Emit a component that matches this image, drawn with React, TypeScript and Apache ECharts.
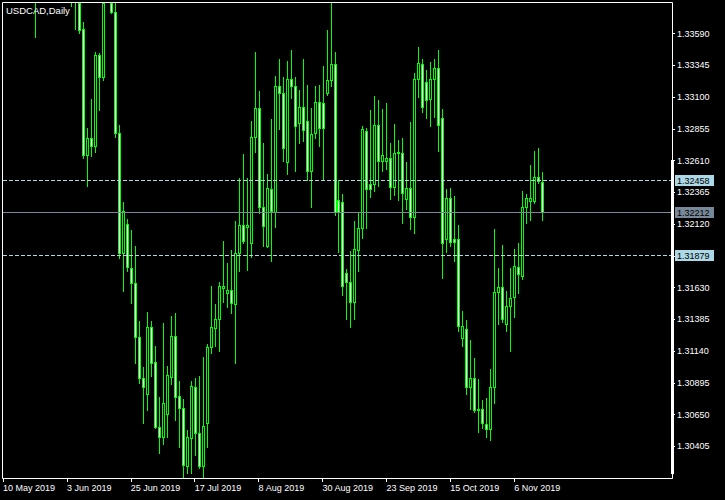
import React, { useEffect, useRef } from 'react';
import * as echarts from 'echarts';

const chartTitle = 'USDCAD,Daily';
const tickLabels = ['10 May 2019', '3 Jun 2019', '25 Jun 2019', '17 Jul 2019', '8 Aug 2019', '30 Aug 2019', '23 Sep 2019', '15 Oct 2019', '6 Nov 2019'];
const tickEvery = 16;
const slotCount = 168;

const openPrices = [
  1.34520, 1.34300, 1.34700, 1.34550, 1.34680, 1.34500, 1.34650, 1.34180, 1.34250, 1.34400,
  1.34800, 1.34350, 1.34400, 1.34900, 1.35200, 1.35000, 1.35150, 1.34700, 1.34200, 1.33950,
  1.33624, 1.32654, 1.32785, 1.32723, 1.33426, 1.33254, 1.34050, 1.34200, 1.33760, 1.32824,
  1.31895, 1.32119, 1.31779, 1.31663, 1.31251, 1.30930, 1.30806, 1.31328, 1.31058, 1.30551,
  1.30479, 1.30652, 1.30937, 1.31256, 1.30793, 1.30698, 1.30253, 1.30466, 1.30863, 1.30505,
  1.30253, 1.30582, 1.31169, 1.31316, 1.31385, 1.31629, 1.31591, 1.31611, 1.31501, 1.31895,
  1.32113, 1.32100, 1.31972, 1.32790, 1.33014, 1.32250, 1.31953, 1.32389, 1.32211, 1.33189,
  1.33130, 1.32597, 1.33238, 1.33187, 1.32899, 1.33027, 1.32919, 1.32533, 1.32821, 1.33061,
  1.33053, 1.33135, 1.33233, 1.33354, 1.32306, 1.32289, 1.31740, 1.31671, 1.31516, 1.31920,
  1.32088, 1.32841, 1.32427, 1.32427, 1.32885, 1.32610, 1.32610, 1.32628, 1.32409, 1.32667,
  1.32667, 1.32314, 1.32397, 1.32173, 1.33238, 1.33356, 1.33215, 1.33084, 1.33241, 1.33323,
  1.32937, 1.32003, 1.32319, 1.32005, 1.32005, 1.31239, 1.31308, 1.30860, 1.30930, 1.30690,
  1.30690, 1.30577, 1.30536, 1.30860, 1.31594, 1.31632, 1.31349, 1.31488, 1.31555, 1.31791,
  1.31722, 1.32250, 1.32301, 1.32301, 1.32482, 1.32443
];
const highPrices = [
  1.34780, 1.34850, 1.34900, 1.35000, 1.34900, 1.34820, 1.34700, 1.34400, 1.34500, 1.35200,
  1.34900, 1.34550, 1.35000, 1.35300, 1.35350, 1.35650, 1.35300, 1.34900, 1.34400, 1.34050,
  1.33683, 1.32862, 1.33086, 1.33451, 1.33445, 1.34200, 1.34350, 1.34300, 1.34000, 1.32885,
  1.32291, 1.32160, 1.32075, 1.31951, 1.31372, 1.31019, 1.31444, 1.31372, 1.31179, 1.30788,
  1.31354, 1.31025, 1.31411, 1.31432, 1.30911, 1.30768, 1.30531, 1.30909, 1.30930, 1.30947,
  1.31096, 1.31195, 1.31642, 1.31503, 1.31676, 1.31992, 1.31822, 1.31920, 1.32144, 1.32474,
  1.32661, 1.32474, 1.32916, 1.33447, 1.33148, 1.32744, 1.32507, 1.32932, 1.33264, 1.33393,
  1.33254, 1.33380, 1.33464, 1.33254, 1.33156, 1.33393, 1.33194, 1.33014, 1.33187, 1.33194,
  1.33341, 1.33619, 1.33830, 1.33447, 1.32461, 1.32353, 1.31774, 1.31913, 1.32144, 1.32204,
  1.32878, 1.32862, 1.33001, 1.33109, 1.33078, 1.33009, 1.33058, 1.32744, 1.32893, 1.32770,
  1.32787, 1.32597, 1.32911, 1.33289, 1.33490, 1.33393, 1.33310, 1.33374, 1.33393, 1.33464,
  1.33009, 1.32391, 1.32401, 1.32337, 1.32113, 1.31449, 1.31380, 1.31225, 1.31086, 1.30924,
  1.30762, 1.30775, 1.31002, 1.32082, 1.31779, 1.31959, 1.31604, 1.31779, 1.31926, 1.31972,
  1.32376, 1.32353, 1.32577, 1.32685, 1.32710, 1.32525
];
const lowPrices = [
  1.34050, 1.34200, 1.34400, 1.34450, 1.34320, 1.34400, 1.34100, 1.33950, 1.33567, 1.34300,
  1.34200, 1.34250, 1.34300, 1.34750, 1.34850, 1.34950, 1.34550, 1.33804, 1.33624, 1.33593,
  1.32631, 1.32414, 1.32646, 1.32677, 1.33001, 1.33233, 1.33950, 1.33748, 1.32793, 1.31859,
  1.31606, 1.31760, 1.31511, 1.31050, 1.30896, 1.30582, 1.30685, 1.30947, 1.30546, 1.30355,
  1.30422, 1.30479, 1.30886, 1.30608, 1.30402, 1.30162, 1.30201, 1.30201, 1.30338, 1.30235,
  1.30165, 1.30397, 1.31127, 1.31179, 1.31143, 1.31521, 1.31483, 1.31432, 1.31046, 1.31760,
  1.31974, 1.31766, 1.31864, 1.32675, 1.32208, 1.31951, 1.31943, 1.31838, 1.32100, 1.32852,
  1.32610, 1.32505, 1.33092, 1.32533, 1.32749, 1.32764, 1.32461, 1.32250, 1.32787, 1.32726,
  1.32461, 1.33117, 1.33189, 1.32191, 1.31907, 1.31573, 1.31385, 1.31328, 1.31388, 1.31760,
  1.32015, 1.32092, 1.32327, 1.32378, 1.32417, 1.32533, 1.32543, 1.32314, 1.32345, 1.32306,
  1.32131, 1.32237, 1.32082, 1.32054, 1.33099, 1.32988, 1.32937, 1.32880, 1.32949, 1.32687,
  1.31702, 1.31907, 1.31951, 1.31838, 1.31297, 1.31179, 1.30808, 1.30693, 1.30672, 1.30517,
  1.30548, 1.30479, 1.30453, 1.30737, 1.31347, 1.31367, 1.31297, 1.31143, 1.31405, 1.31591,
  1.31696, 1.32126, 1.32152, 1.32281, 1.32435, 1.32152
];
const closePrices = [
  1.34300, 1.34700, 1.34550, 1.34680, 1.34500, 1.34650, 1.34180, 1.34250, 1.34400, 1.34800,
  1.34350, 1.34400, 1.34900, 1.35200, 1.35000, 1.35150, 1.34700, 1.34200, 1.33950, 1.33619,
  1.32654, 1.32785, 1.32723, 1.33426, 1.33254, 1.34050, 1.34200, 1.33760, 1.32824, 1.31897,
  1.32221, 1.31787, 1.31668, 1.31251, 1.30930, 1.30865, 1.31328, 1.31050, 1.30551, 1.30474,
  1.30737, 1.30955, 1.31256, 1.30788, 1.30698, 1.30260, 1.30474, 1.30870, 1.30510, 1.30253,
  1.30561, 1.31169, 1.31323, 1.31385, 1.31642, 1.31642, 1.31611, 1.31509, 1.31895, 1.32113,
  1.31992, 1.32113, 1.32790, 1.33014, 1.32255, 1.32108, 1.32397, 1.32224, 1.33189, 1.33130,
  1.32705, 1.33238, 1.33187, 1.32878, 1.33027, 1.32847, 1.32533, 1.32814, 1.33061, 1.32865,
  1.32865, 1.33233, 1.33354, 1.32216, 1.32211, 1.31642, 1.31671, 1.31516, 1.31926, 1.32088,
  1.32852, 1.32389, 1.32389, 1.32885, 1.32610, 1.32654, 1.32633, 1.32409, 1.32667, 1.32679,
  1.32358, 1.32397, 1.32173, 1.33241, 1.33362, 1.33022, 1.33078, 1.33241, 1.33323, 1.32885,
  1.31972, 1.32319, 1.31984, 1.31984, 1.31336, 1.31336, 1.30865, 1.30930, 1.30685, 1.30688,
  1.30582, 1.30536, 1.30860, 1.31594, 1.31632, 1.31385, 1.31490, 1.31552, 1.31799, 1.31735,
  1.32255, 1.32319, 1.32319, 1.32482, 1.32455, 1.32212
];

const upperLevel = 1.32458;
const bidLevel = 1.32212;
const lowerLevel = 1.31879;

const yMin = 1.3016;
const yMax = 1.33835;
const yStep = 0.00245;
const hiddenTickLabels = ['1.31875'];

const FONT = 'Liberation Sans, Arial, sans-serif';
const MONTHS = ['Jan', 'Feb', 'Mar', 'Apr', 'May', 'Jun', 'Jul', 'Aug', 'Sep', 'Oct', 'Nov', 'Dec'];
const CANDLE_LINE = '#00ff00';
const BULL_FILL = '#000000';
const BEAR_FILL = '#ffffff';

function buildCategories(): string[] {
  const out: string[] = [];
  const d = new Date(Date.UTC(2019, 4, 10));
  while (out.length < slotCount) {
    const wd = d.getUTCDay();
    if (wd !== 0 && wd !== 6) {
      out.push(`${d.getUTCDate()} ${MONTHS[d.getUTCMonth()]} ${d.getUTCFullYear()}`);
    }
    d.setUTCDate(d.getUTCDate() + 1);
  }
  return out;
}

function renderCandle(params: any, api: any) {
  const idx = api.value(0);
  const o = api.value(1);
  const c = api.value(2);
  const l = api.value(3);
  const h = api.value(4);
  const cs = params.coordSys;
  const top = cs.y;
  const bottom = cs.y + cs.height;
  const pO = api.coord([idx, o]);
  const pC = api.coord([idx, c]);
  const pL = api.coord([idx, l]);
  const pH = api.coord([idx, h]);
  const cx = Math.round(pO[0]);
  const clampY = (v: number) => Math.min(bottom, Math.max(top + 1, v));
  const children: any[] = [];

  if (pL[1] > top + 1 && pH[1] < bottom) {
    const yH = Math.round(clampY(pH[1]));
    const yL = Math.round(clampY(pL[1]));
    children.push({
      type: 'rect',
      shape: { x: cx, y: yH, width: 1, height: Math.max(1, yL - yH + 1) },
      style: { fill: CANDLE_LINE },
    });
  }
  const bodyTopRaw = Math.min(pO[1], pC[1]);
  const bodyBotRaw = Math.max(pO[1], pC[1]);
  if (bodyBotRaw > top + 1 && bodyTopRaw < bottom) {
    const yT = Math.round(clampY(bodyTopRaw));
    const yB = Math.round(clampY(bodyBotRaw));
    const hgt = Math.max(1, yB - yT + 1);
    children.push({
      type: 'rect',
      shape: { x: cx - 1, y: yT, width: 3, height: hgt },
      style: { fill: CANDLE_LINE },
    });
    if (hgt > 2) {
      children.push({
        type: 'rect',
        shape: { x: cx, y: yT + 1, width: 1, height: hgt - 2 },
        style: { fill: o > c ? BEAR_FILL : BULL_FILL },
      });
    }
  }
  return { type: 'group', children, silent: true };
}

export default function App() {
  const ref = useRef<HTMLDivElement>(null);

  useEffect(() => {
    if (!ref.current) return;
    const chart = echarts.init(ref.current, null, { renderer: 'svg' });
    const categories = buildCategories();
    const candleData = openPrices.map((o, i) => [i, o, closePrices[i], lowPrices[i], highPrices[i]]);
    const lastTickIndex = (tickLabels.length - 1) * tickEvery;
    const isTick = (idx: number) => idx % tickEvery === 0 && idx <= lastTickIndex;

    const baseGraphics: any[] = [
      {
        id: 'frame',
        type: 'rect',
        shape: { x: 2.5, y: 2.5, width: 670, height: 476 },
        style: { fill: 'none', stroke: '#ffffff', lineWidth: 1 },
        silent: true,
        z: 50,
      },
      {
        id: 'title',
        type: 'text',
        x: 6,
        y: 5,
        style: {
          text: chartTitle,
          fill: '#ffffff',
          fontSize: 9.5,
          fontFamily: FONT,
        },
        z: 60,
      },
      {
        id: 'scalebar',
        type: 'rect',
        shape: { x: 671, y: 160, width: 3, height: 314 },
        style: { fill: '#ffffff' },
        z: 60,
      },
    ];

    const option: any = {
      animation: false,
      backgroundColor: '#000000',
      textStyle: { fontFamily: FONT },
      grid: {
        left: 0,
        right: 53,
        top: 2,
        bottom: 22,
        show: false,
      },
      xAxis: {
        type: 'category',
        data: categories,
        boundaryGap: true,
        axisLine: { show: false },
        axisTick: {
          show: true,
          length: 4,
          alignWithLabel: true,
          lineStyle: { color: '#ffffff' },
          interval: (idx: number) => isTick(idx),
        },
        axisLabel: {
          show: true,
          color: '#ffffff',
          fontSize: 9,
          fontFamily: FONT,
          align: 'left',
          margin: 5,
          interval: (idx: number) => isTick(idx),
          formatter: (_v: string, idx: number) => (isTick(idx) ? tickLabels[idx / tickEvery] : ''),
        },
        splitLine: { show: false },
      },
      yAxis: {
        type: 'value',
        position: 'right',
        min: yMin,
        max: yMax,
        interval: yStep,
        axisLine: { show: false },
        axisTick: { show: true, length: 3, lineStyle: { color: '#ffffff' } },
        axisLabel: {
          show: true,
          color: '#ffffff',
          fontSize: 9,
          fontFamily: FONT,
          margin: 5,
          showMinLabel: false,
          showMaxLabel: false,
          formatter: (v: number) => {
            const s = v.toFixed(5);
            return hiddenTickLabels.includes(s) ? '' : s;
          },
        },
        splitLine: { show: false },
      },
      series: [
        {
          type: 'custom',
          data: candleData,
          encode: { x: 0, y: [1, 2, 3, 4] },
          renderItem: renderCandle,
          clip: true,
          silent: true,
          z: 3,
        },
      ],
      graphic: baseGraphics,
    };

    chart.setOption(option);

    const levels = [
      { id: 'upper', value: upperLevel, color: '#add8e6', dash: [4, 2] },
      { id: 'bid', value: bidLevel, color: '#778899', dash: null },
      { id: 'lower', value: lowerLevel, color: '#add8e6', dash: [4, 2] },
    ];
    const levelGraphics: any[] = [];
    levels.forEach((lv) => {
      const py = chart.convertToPixel({ yAxisIndex: 0 }, lv.value) as number;
      const ry = Math.round(py);
      levelGraphics.push({
        id: lv.id + '-line',
        type: 'line',
        shape: { x1: 3, y1: ry + 0.5, x2: 672, y2: ry + 0.5 },
        style: { stroke: lv.color, lineWidth: 1, lineDash: lv.dash || undefined },
        silent: true,
        z: 40,
      });
      levelGraphics.push({
        id: lv.id + '-box',
        type: 'rect',
        shape: { x: 675, y: ry - 5, width: 39, height: 11 },
        style: { fill: lv.color },
        silent: true,
        z: 70,
      });
      levelGraphics.push({
        id: lv.id + '-text',
        type: 'text',
        x: 677,
        y: ry + 0.5,
        style: {
          text: lv.value.toFixed(5),
          fill: '#000000',
          fontSize: 9,
          fontFamily: FONT,
          verticalAlign: 'middle',
          align: 'left',
        },
        silent: true,
        z: 71,
      });
    });

    chart.setOption({ graphic: baseGraphics.concat(levelGraphics) });
    return () => chart.dispose();
  }, []);

  return (
    <div
      ref={ref}
      style={{ position: 'absolute', left: 0, top: 0, width: 725, height: 500, background: '#000' }}
    />
  );
}
